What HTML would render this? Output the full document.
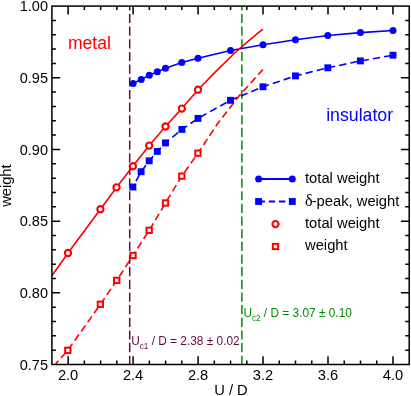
<!DOCTYPE html><html><head><meta charset="utf-8"><style>html,body{margin:0;padding:0;background:#fff;overflow:hidden}svg{display:block;will-change:transform}text{font-family:"Liberation Sans",sans-serif}</style></head><body>
<svg width="411" height="396" viewBox="0 0 411 396">
<rect width="411" height="396" fill="#fff"/>
<line x1="129.7" y1="6.1" x2="129.7" y2="364.5" stroke="#670748" stroke-width="1.5" stroke-dasharray="9.2 3.46" stroke-dashoffset="4.84"/>
<line x1="241.9" y1="6.1" x2="241.9" y2="364.5" stroke="#008b00" stroke-width="1.5" stroke-dasharray="9.2 3.46" stroke-dashoffset="4.84"/>
<clipPath id="c"><rect x="51.9" y="6.1" width="357.3" height="358.4"/></clipPath>
<g clip-path="url(#c)" fill="none" stroke-linejoin="round">
<polyline points="133.1,83.5 141.2,79.4 149.3,75.3 157.3,71.8 165.5,68.2 181.8,62.6 198.0,58.2 230.5,50.5 263.0,44.7 295.5,39.7 327.8,35.5 360.4,32.6 393.0,30.5" stroke="#0000ff" stroke-width="1.6"/>
<polyline points="132.9,187.0 141.1,171.7 149.2,160.8 157.3,151.4 165.5,142.9 181.9,129.4 198.0,118.4 230.5,100.3 263.0,86.8 295.5,75.9 327.8,67.8 360.4,60.9 393.0,55.2" stroke="#0000ff" stroke-width="1.6" stroke-dasharray="7.4 4.07" stroke-dashoffset="4.93"/>
<polyline points="51.9,275.8 68.0,253.0 100.4,209.2 116.5,187.4 132.8,166.2 149.2,145.6 165.5,126.5 181.8,108.6 198.0,89.7 215.2,72.1 235.4,52.3 249.5,40.2 262.8,29.1" stroke="#ff0000" stroke-width="1.6"/>
<polyline points="55.6,364.0 67.8,350.3 100.4,304.3 116.7,280.4 133.0,255.5 149.2,230.3 165.5,203.0 181.8,176.1 197.9,153.2 218.0,123.0 239.6,95.3 263.0,69.5" stroke="#ff0000" stroke-width="1.6" stroke-dasharray="7.3 3.85" stroke-dashoffset="3.11"/>
</g>
<circle cx="133.1" cy="83.5" r="3.5" fill="#0000ff"/>
<circle cx="141.2" cy="79.4" r="3.5" fill="#0000ff"/>
<circle cx="149.3" cy="75.3" r="3.5" fill="#0000ff"/>
<circle cx="157.3" cy="71.8" r="3.5" fill="#0000ff"/>
<circle cx="165.5" cy="68.2" r="3.5" fill="#0000ff"/>
<circle cx="181.8" cy="62.6" r="3.5" fill="#0000ff"/>
<circle cx="198.0" cy="58.2" r="3.5" fill="#0000ff"/>
<circle cx="230.5" cy="50.5" r="3.5" fill="#0000ff"/>
<circle cx="263.0" cy="44.7" r="3.5" fill="#0000ff"/>
<circle cx="295.5" cy="39.7" r="3.5" fill="#0000ff"/>
<circle cx="327.8" cy="35.5" r="3.5" fill="#0000ff"/>
<circle cx="360.4" cy="32.6" r="3.5" fill="#0000ff"/>
<circle cx="393.0" cy="30.5" r="3.5" fill="#0000ff"/>
<rect x="129.45" y="183.55" width="6.9" height="6.9" fill="#0000ff"/>
<rect x="137.65" y="168.25" width="6.9" height="6.9" fill="#0000ff"/>
<rect x="145.75" y="157.35" width="6.9" height="6.9" fill="#0000ff"/>
<rect x="153.85" y="147.95" width="6.9" height="6.9" fill="#0000ff"/>
<rect x="162.05" y="139.45" width="6.9" height="6.9" fill="#0000ff"/>
<rect x="178.45" y="125.95" width="6.9" height="6.9" fill="#0000ff"/>
<rect x="194.55" y="114.95" width="6.9" height="6.9" fill="#0000ff"/>
<rect x="227.05" y="96.85" width="6.9" height="6.9" fill="#0000ff"/>
<rect x="259.55" y="83.35" width="6.9" height="6.9" fill="#0000ff"/>
<rect x="292.05" y="72.45" width="6.9" height="6.9" fill="#0000ff"/>
<rect x="324.35" y="64.35" width="6.9" height="6.9" fill="#0000ff"/>
<rect x="356.95" y="57.45" width="6.9" height="6.9" fill="#0000ff"/>
<rect x="389.55" y="51.75" width="6.9" height="6.9" fill="#0000ff"/>
<circle cx="68.0" cy="253.0" r="3.1" fill="#fff" stroke="#ff0000" stroke-width="2.1"/>
<circle cx="100.4" cy="209.2" r="3.1" fill="#fff" stroke="#ff0000" stroke-width="2.1"/>
<circle cx="116.5" cy="187.4" r="3.1" fill="#fff" stroke="#ff0000" stroke-width="2.1"/>
<circle cx="132.85" cy="166.2" r="3.1" fill="#fff" stroke="#ff0000" stroke-width="2.1"/>
<circle cx="149.15" cy="145.6" r="3.1" fill="#fff" stroke="#ff0000" stroke-width="2.1"/>
<circle cx="165.5" cy="126.5" r="3.1" fill="#fff" stroke="#ff0000" stroke-width="2.1"/>
<circle cx="181.85" cy="108.6" r="3.1" fill="#fff" stroke="#ff0000" stroke-width="2.1"/>
<circle cx="198.0" cy="89.7" r="3.1" fill="#fff" stroke="#ff0000" stroke-width="2.1"/>
<rect x="65.15" y="347.65" width="5.3" height="5.3" fill="#fff" stroke="#ff0000" stroke-width="2"/>
<rect x="97.75" y="301.65" width="5.3" height="5.3" fill="#fff" stroke="#ff0000" stroke-width="2"/>
<rect x="114.05" y="277.75" width="5.3" height="5.3" fill="#fff" stroke="#ff0000" stroke-width="2"/>
<rect x="130.35" y="252.85" width="5.3" height="5.3" fill="#fff" stroke="#ff0000" stroke-width="2"/>
<rect x="146.55" y="227.65" width="5.3" height="5.3" fill="#fff" stroke="#ff0000" stroke-width="2"/>
<rect x="162.85" y="200.35" width="5.3" height="5.3" fill="#fff" stroke="#ff0000" stroke-width="2"/>
<rect x="179.15" y="173.45" width="5.3" height="5.3" fill="#fff" stroke="#ff0000" stroke-width="2"/>
<rect x="195.25" y="150.55" width="5.3" height="5.3" fill="#fff" stroke="#ff0000" stroke-width="2"/>
<rect x="51.9" y="6.1" width="357.3" height="358.4" fill="none" stroke="#000" stroke-width="1.5"/>
<path d="M68.14,364.5v-8.3M68.14,6.1v8.3M84.38,364.5v-4M84.38,6.1v4M100.62,364.5v-4M100.62,6.1v4M116.86,364.5v-4M116.86,6.1v4M133.10,364.5v-8.3M133.10,6.1v8.3M149.35,364.5v-4M149.35,6.1v4M165.59,364.5v-4M165.59,6.1v4M181.83,364.5v-4M181.83,6.1v4M198.07,364.5v-8.3M198.07,6.1v8.3M214.31,364.5v-4M214.31,6.1v4M230.55,364.5v-4M230.55,6.1v4M246.79,364.5v-4M246.79,6.1v4M263.03,364.5v-8.3M263.03,6.1v8.3M279.27,364.5v-4M279.27,6.1v4M295.51,364.5v-4M295.51,6.1v4M311.75,364.5v-4M311.75,6.1v4M328.00,364.5v-8.3M328.00,6.1v8.3M344.24,364.5v-4M344.24,6.1v4M360.48,364.5v-4M360.48,6.1v4M376.72,364.5v-4M376.72,6.1v4M392.96,364.5v-8.3M392.96,6.1v8.3M51.9,350.16h4M409.2,350.16h-4M51.9,335.83h4M409.2,335.83h-4M51.9,321.49h4M409.2,321.49h-4M51.9,307.16h4M409.2,307.16h-4M51.9,292.82h8.3M409.2,292.82h-8.3M51.9,278.48h4M409.2,278.48h-4M51.9,264.15h4M409.2,264.15h-4M51.9,249.81h4M409.2,249.81h-4M51.9,235.48h4M409.2,235.48h-4M51.9,221.14h8.3M409.2,221.14h-8.3M51.9,206.80h4M409.2,206.80h-4M51.9,192.47h4M409.2,192.47h-4M51.9,178.13h4M409.2,178.13h-4M51.9,163.80h4M409.2,163.80h-4M51.9,149.46h8.3M409.2,149.46h-8.3M51.9,135.12h4M409.2,135.12h-4M51.9,120.79h4M409.2,120.79h-4M51.9,106.45h4M409.2,106.45h-4M51.9,92.12h4M409.2,92.12h-4M51.9,77.78h8.3M409.2,77.78h-8.3M51.9,63.44h4M409.2,63.44h-4M51.9,49.11h4M409.2,49.11h-4M51.9,34.77h4M409.2,34.77h-4M51.9,20.44h4M409.2,20.44h-4" stroke="#000" stroke-width="1.5" fill="none"/>
<text x="68.1" y="379.8" font-size="14.7" text-anchor="middle">2.0</text>
<text x="133.1" y="379.8" font-size="14.7" text-anchor="middle">2.4</text>
<text x="198.1" y="379.8" font-size="14.7" text-anchor="middle">2.8</text>
<text x="263.0" y="379.8" font-size="14.7" text-anchor="middle">3.2</text>
<text x="328.0" y="379.8" font-size="14.7" text-anchor="middle">3.6</text>
<text x="393.0" y="379.8" font-size="14.7" text-anchor="middle">4.0</text>
<text x="48.0" y="369.8" font-size="14.5" text-anchor="end">0.75</text>
<text x="48.0" y="298.1" font-size="14.5" text-anchor="end">0.80</text>
<text x="48.0" y="226.4" font-size="14.5" text-anchor="end">0.85</text>
<text x="48.0" y="154.8" font-size="14.5" text-anchor="end">0.90</text>
<text x="48.0" y="83.1" font-size="14.5" text-anchor="end">0.95</text>
<text x="48.0" y="11.4" font-size="14.5" text-anchor="end">1.00</text>
<text transform="translate(10.7,185.6) rotate(-90)" font-size="14.7" text-anchor="middle">weight</text>
<text x="230.95" y="394.8" font-size="14.7" text-anchor="middle">U / D</text>
<text x="68" y="48.7" font-size="17.5" fill="#ff0000">metal</text>
<text x="326.2" y="121.0" font-size="17.7" fill="#0000ff">insulator</text>
<line x1="258.6" y1="179.1" x2="292.3" y2="179.1" stroke="#0000ff" stroke-width="2"/>
<circle cx="258.6" cy="179.1" r="3.5" fill="#0000ff"/><circle cx="292.3" cy="179.1" r="3.5" fill="#0000ff"/>
<line x1="258.6" y1="201.5" x2="292.3" y2="201.5" stroke="#0000ff" stroke-width="1.9" stroke-dasharray="6.3 3.9"/>
<rect x="255.15" y="198.05" width="6.9" height="6.9" fill="#0000ff"/><rect x="288.85" y="198.05" width="6.9" height="6.9" fill="#0000ff"/>
<circle cx="275.5" cy="224.1" r="3.1" fill="#fff" stroke="#ff0000" stroke-width="2.1"/>
<rect x="272.85" y="243.85" width="5.3" height="5.3" fill="#fff" stroke="#ff0000" stroke-width="2"/>
<text x="305" y="183.1" font-size="14.75">total weight</text>
<text x="305" y="205.5" font-size="14.75"><tspan font-family="Liberation Serif, serif" font-size="16.2">δ</tspan><tspan dx="-1">-peak, weight</tspan></text>
<text x="305" y="227.9" font-size="14.75">total weight</text>
<text x="305" y="250.25" font-size="14.75">weight</text>
<text transform="translate(131.2,345.4) scale(0.974,1.04)" font-size="12.2" fill="#670748">U<tspan font-size="8.3" dy="3.7">c1</tspan><tspan dy="-3.7"> / D = 2.38 ± 0.02</tspan></text>
<text transform="translate(243.4,316.9) scale(0.974,1.0)" font-size="12.2" fill="#008b00">U<tspan font-size="8.3" dy="4.4">c2</tspan><tspan dy="-4.4"> / D = 3.07 ± 0.10</tspan></text>
</svg></body></html>
